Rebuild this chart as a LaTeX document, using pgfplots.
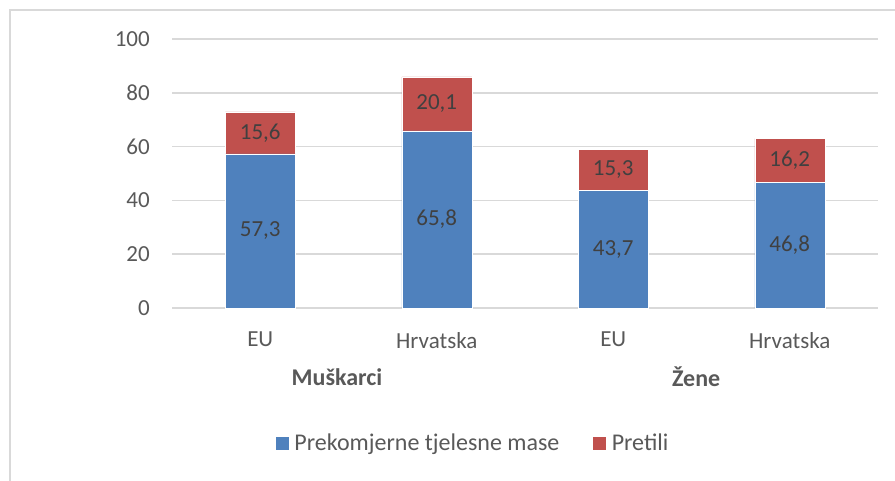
\documentclass[border=0pt]{standalone}
\usepackage{fontspec}
\setmainfont{Carlito}
\usepackage{pgfplots}
\pgfplotsset{compat=1.18}
\definecolor{cblue}{HTML}{4F81BD}
\definecolor{cred}{HTML}{C0504D}
\definecolor{tgray}{HTML}{595959}
\definecolor{lgray}{HTML}{404040}
\definecolor{gridc}{HTML}{D9D9D9}
\begin{document}
\begin{tikzpicture}[x=1pt,y=1pt,font=\fontsize{23}{27}\selectfont]
\useasboundingbox (0,0) rectangle (895,481);
\draw[gridc, line width=1.5pt] (10,0) -- (10,471) -- (896,471);
\begin{axis}[
  at={(172pt,173pt)}, anchor=south west,
  scale only axis, width=706pt, height=269pt,
  xmin=-0.5, xmax=3.5, ymin=0, ymax=100,
  ytick={0,20,...,100},
  xtick={0,1,2,3}, xticklabels={EU,Hrvatska,EU,Hrvatska},
  ybar stacked, bar width=70pt,
  axis line style={draw=none},
  tick style={draw=none}, major tick length=0pt,
  ymajorgrids, grid style={gridc, line width=1.5pt},
  /pgf/number format/assume math mode=true,
  tick label style={text=tgray, font=\fontsize{23}{27}\selectfont},
  yticklabel style={inner sep=0pt, xshift=-22pt},
  xticklabel style={inner sep=0pt, yshift=-24pt},
  nodes near coords,
  point meta=explicit,
  every node near coord/.append style={anchor=center, text=lgray,
     font=\fontsize{23}{27}\selectfont,
     /pgf/number format/.cd, fixed, fixed zerofill, precision=1, use comma, assume math mode=true},
  legend columns=2,
  legend style={at={(0.426,-0.502)}, anchor=center, draw=none, fill=none,
     font=\fontsize{24}{28}\selectfont, text=tgray,
     /tikz/every even column/.append style={column sep=31pt}},
  legend image code/.code={\path (0pt,0pt) -- (17pt,0pt); \fill[#1] (0pt,-7pt) rectangle (14pt,7pt);},
  clip=false,
]
\addplot[fill=cblue, draw=white, line width=0.4pt] coordinates {(0,57.3) [57.3] (1,65.8) [65.8] (2,43.7) [43.7] (3,46.8) [46.8]};
\addplot[fill=cred, draw=white, line width=0.4pt] coordinates {(0,15.6) [15.6] (1,20.1) [20.1] (2,15.3) [15.3] (3,16.2) [16.2]};
\legend{Prekomjerne tjelesne mase, Pretili}
\node[text=tgray, font=\fontsize{24}{28}\selectfont\bfseries] at (axis cs:0.435,0) [yshift=-69pt] {Muškarci};
\node[text=tgray, font=\fontsize{24}{28}\selectfont\bfseries] at (axis cs:2.47,0) [yshift=-69pt] {Žene};
\end{axis}
\end{tikzpicture}
\end{document}
